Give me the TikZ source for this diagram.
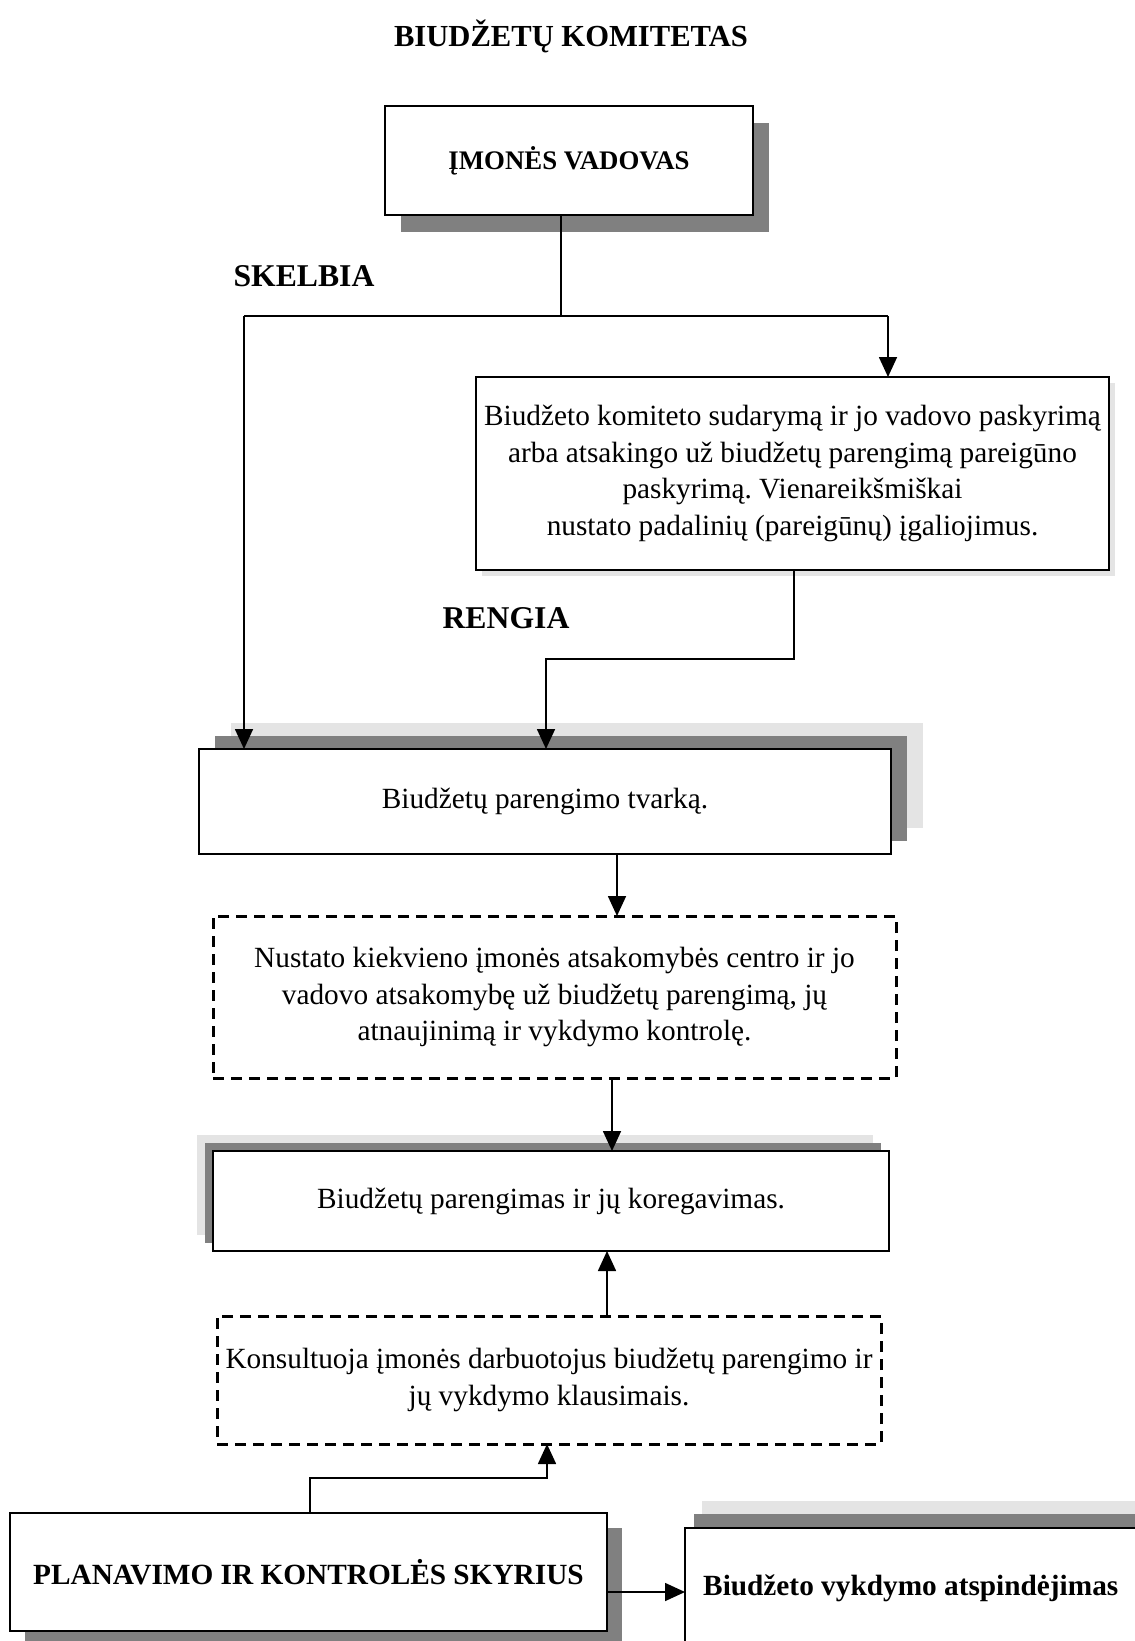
\documentclass[tikz,border=0pt]{standalone}
\usepackage{fontspec}
\setmainfont{Liberation Serif}
\usetikzlibrary{arrows.meta,backgrounds}
\frenchspacing
\newcommand\bodyfont{\fontsize{29.3}{36.5}\selectfont}
\newcommand\labfont{\fontsize{31.7}{38}\selectfont\bfseries}
\newcommand\mkshadow[4]{\fill[#4] ([shift={(#2,#3)}]#1.north west) rectangle ([shift={(#2,#3)}]#1.south east);}
\definecolor{shdark}{HTML}{808080}
\definecolor{shlight}{HTML}{E4E4E4}
\begin{document}
\begin{tikzpicture}[x=1pt,y=-1pt,
  sbox/.style={draw, line width=2.8pt, fill=white, inner sep=0pt, outer sep=0pt, align=center, font=\bodyfont},
  dbox/.style={sbox, line width=3pt, dash pattern=on 11pt off 7pt},
  conn/.style={line width=1.7pt},
  arr/.style={conn, -{Triangle[length=20pt,width=18pt]}},
  lab/.style={inner sep=0pt, font=\labfont, anchor=base}]
\useasboundingbox (0,0) rectangle (1135,1641);
\clip (0,0) rectangle (1135,1641);

\node[lab] (title) at (571,46.7) {\fontsize{30.6}{36}\selectfont BIUDŽETŲ KOMITETAS};

\node[sbox, minimum width=368pt, minimum height=109pt, font=\fontsize{26.8}{32}\selectfont\bfseries] (b1) at (569,160.5) {ĮMONĖS VADOVAS};

\node[lab] (skelbia) at (304,286) {SKELBIA};

\node[sbox, minimum width=633pt, minimum height=193pt] (b2) at (792.5,473.5)
  {Biudžeto komiteto sudarymą ir jo vadovo paskyrimą\\
   arba atsakingo už biudžetų parengimą pareigūno\\
   paskyrimą. Vienareikšmiškai\\
   nustato padalinių (pareigūnų) įgaliojimus.};

\node[lab] (rengia) at (506,628) {RENGIA};

\node[sbox, minimum width=692pt, minimum height=105pt] (b3) at (545,801.5) {Biudžetų parengimo tvarką.};

\node[dbox, minimum width=683pt, minimum height=162pt] (b4) at (554.5,997)
  {Nustato kiekvieno įmonės atsakomybės centro ir jo\\
   vadovo atsakomybę už biudžetų parengimą, jų\\
   atnaujinimą ir vykdymo kontrolę.};

\node[sbox, minimum width=676pt, minimum height=100pt] (b5) at (551,1201) {Biudžetų parengimas ir jų koregavimas.};

\node[dbox, minimum width=664pt, minimum height=128pt] (b6) at (549,1380)
  {Konsultuoja įmonės darbuotojus biudžetų parengimo ir\\
   jų vykdymo klausimais.};

\node[sbox, minimum width=597pt, minimum height=118pt, font=\fontsize{29.3}{36}\selectfont\bfseries] (b7) at (308.5,1572) {PLANAVIMO IR KONTROLĖS SKYRIUS};

\node[sbox, minimum width=480pt, minimum height=150pt] (b8) at (925,1603) {};
\node[inner sep=0pt, anchor=base west, font=\fontsize{29.3}{36}\selectfont\bfseries] (b8t) at (703,1595) {Biudžeto vykdymo atspindėjimas};

\begin{pgfonlayer}{background}
  \clip (0,0) rectangle (1135,1641);
  \fill[white] (0,0) rectangle (1135,1641);
  \mkshadow{b1}{16}{17}{shdark}
  \mkshadow{b2}{6}{6}{shlight}
  \mkshadow{b3}{32}{-26}{shlight}
  \mkshadow{b3}{16}{-13}{shdark}
  \mkshadow{b5}{-16}{-16}{shlight}
  \mkshadow{b5}{-8}{-8}{shdark}
  \mkshadow{b7}{15}{15}{shdark}
  \mkshadow{b8}{17}{-27}{shlight}
  \mkshadow{b8}{9}{-14}{shdark}
\end{pgfonlayer}

% connectors
\coordinate (j) at (561,316);
\coordinate (jL) at (244,316);
\coordinate (jR) at (888,316);
\draw[conn] (b1.south -| j) -- (j);
\draw[conn] (jL) -- (jR);
\draw[arr] (jR) -- (jR |- b2.north);
\draw[arr] (jL) -- (jL |- b3.north);

\coordinate (r1) at (794,659);
\coordinate (r2) at (546,659);
\draw[arr] (b2.south -| r1) -- (r1) -- (r2) -- (r2 |- b3.north);

\coordinate (x34) at (617,0);
\draw[arr] (b3.south -| x34) -- (b4.north -| x34);
\coordinate (x45) at (612,0);
\draw[arr] (b4.south -| x45) -- (b5.north -| x45);
\coordinate (x65) at (607,0);
\draw[arr] (b6.north -| x65) -- (b5.south -| x65);

\coordinate (k1) at (310,1478);
\coordinate (k2) at (547,1478);
\draw[arr] (b7.north -| k1) -- (k1) -- (k2) -- (k2 |- b6.south);

\coordinate (m) at (0,1592);
\draw[arr] (b7.east |- m) -- (b8.west |- m);
\end{tikzpicture}
\end{document}
